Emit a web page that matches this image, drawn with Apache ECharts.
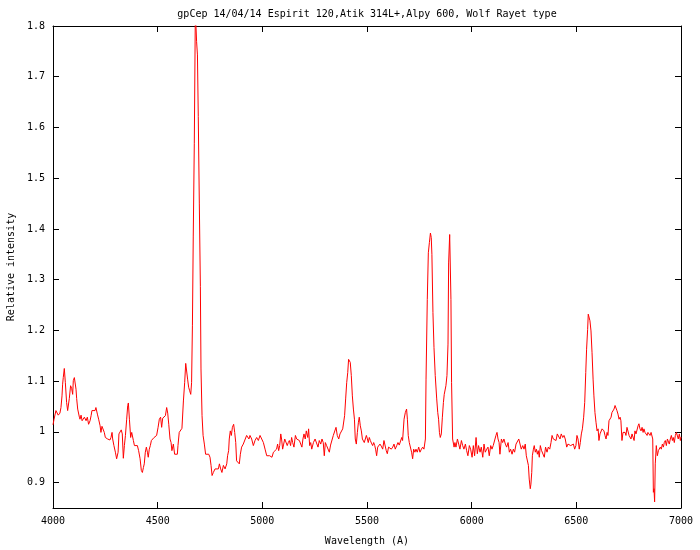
<!DOCTYPE html>
<html>
<head>
<meta charset="utf-8">
<script src="https://cdn.jsdelivr.net/npm/echarts@6/dist/echarts.min.js"></script>
<style>html,body{margin:0;padding:0;background:#fff}#chart{width:700px;height:550px}</style>
</head>
<body>
<div id="chart"></div>
<script>
const titleText = "gpCep 14/04/14 Espirit 120,Atik 314L+,Alpy 600, Wolf Rayet type";
const xName = "Wavelength (A)";
const yName = "Relative intensity";
const xTicks = [4000, 4500, 5000, 5500, 6000, 6500, 7000];
const yTicks = [0.9, 1.0, 1.1, 1.2, 1.3, 1.4, 1.5, 1.6, 1.7, 1.8];

const wavelength = [
4000,4005,4014,4025,4033,4038,4043,4046,4049,4054,4059,4065,4070,4075,4078,4084,4089,4094,4097,4102,
4107,4110,4113,4118,4126,4129,4134,4139,4145,4150,4158,4164,4170,4177,4182,4186,4193,4201,4205,4212,
4218,4225,4229,4234,4240,4245,4250,4256,4261,4266,4272,4277,4282,4285,4291,4298,4304,4311,4315,4320,
4326,4331,4336,4341,4346,4352,4357,4360,4365,4371,4376,4384,4389,4396,4403,4409,4416,4422,4427,4432,
4436,4441,4446,4451,4455,4460,4465,4470,4476,4483,4489,4495,4502,4508,4514,4519,4524,4530,4537,4543,
4548,4553,4559,4564,4568,4575,4581,4588,4594,4597,4603,4610,4616,4623,4629,4634,4639,4643,4648,4653,
4658,4662,4666,4670,4675,4680,4683,4686,4690,4694,4699,4704,4707,4712,4717,4723,4729,4737,4744,4750,
4755,4760,4766,4774,4782,4790,4795,4801,4807,4814,4822,4830,4834,4839,4842,4847,4852,4857,4863,4868,
4873,4877,4885,4890,4895,4901,4909,4917,4925,4930,4936,4941,4949,4957,4965,4973,4981,4989,4997,5005,
5013,5021,5029,5035,5040,5046,5053,5060,5068,5073,5078,5083,5088,5092,5097,5102,5107,5113,5119,5124,
5129,5135,5140,5145,5151,5158,5164,5170,5177,5183,5189,5194,5199,5205,5210,5217,5221,5226,5231,5236,
5244,5252,5260,5266,5272,5279,5285,5291,5296,5301,5307,5314,5320,5326,5333,5339,5345,5352,5358,5365,
5371,5377,5384,5389,5393,5398,5403,5408,5412,5416,5420,5425,5430,5435,5440,5444,5449,5454,5459,5463,
5468,5473,5478,5483,5487,5492,5497,5502,5506,5511,5516,5521,5527,5532,5537,5541,5546,5551,5556,5562,
5568,5575,5581,5586,5592,5597,5603,5610,5616,5623,5629,5635,5642,5648,5654,5658,5666,5670,5677,5683,
5689,5693,5697,5702,5709,5713,5718,5723,5729,5734,5740,5747,5753,5760,5766,5772,5779,5782,5788,5793,
5798,5803,5807,5810,5815,5820,5826,5833,5838,5842,5846,5850,5855,5860,5865,5869,5874,5877,5882,5887,
5890,5895,5900,5901,5904,5909,5916,5920,5925,5932,5938,5944,5951,5957,5963,5970,5976,5982,5989,5995,
6002,6008,6014,6021,6027,6033,6040,6046,6053,6059,6065,6072,6078,6084,6091,6097,6103,6110,6116,6121,
6126,6131,6135,6142,6148,6154,6161,6167,6174,6180,6186,6193,6199,6205,6212,6218,6225,6231,6237,6244,
6250,6256,6261,6266,6271,6275,6280,6283,6287,6290,6295,6299,6304,6309,6314,6318,6323,6328,6334,6341,
6347,6353,6360,6366,6373,6379,6384,6390,6397,6403,6409,6416,6422,6428,6435,6441,6447,6454,6460,6467,
6473,6479,6486,6492,6498,6503,6508,6514,6519,6524,6529,6535,6540,6545,6549,6554,6557,6562,6565,6570,
6575,6580,6584,6589,6594,6599,6604,6608,6613,6618,6623,6627,6632,6637,6642,6647,6651,6656,6661,6666,
6670,6675,6680,6685,6690,6694,6699,6704,6709,6713,6718,6723,6728,6733,6737,6742,6747,6752,6756,6761,
6766,6771,6776,6780,6785,6790,6795,6799,6804,6809,6814,6819,6823,6828,6833,6838,6842,6847,6852,6857,
6861,6865,6868,6871,6874,6877,6882,6887,6892,6897,6901,6906,6911,6916,6920,6925,6930,6935,6940,6944,
6949,6954,6959,6963,6968,6973,6978,6983,6987,6992,6997,7000
];

const intensity = [
1.014,1.025,1.042,1.033,1.037,1.048,1.071,1.094,1.107,1.125,1.097,1.058,1.042,1.045,1.066,1.091,1.086,1.074,1.101,1.107,
1.104,1.084,1.066,1.045,1.029,1.025,1.033,1.022,1.019,1.029,1.022,1.029,1.015,1.022,1.032,1.042,1.045,1.042,1.048,1.035,
1.025,1.012,0.999,1.011,1.009,0.999,0.989,0.991,0.986,0.989,0.984,0.989,0.999,0.986,0.973,0.960,0.947,0.960,0.996,0.999,
1.004,0.996,0.948,0.973,0.993,1.025,1.052,1.057,1.025,0.989,0.999,0.983,0.973,0.970,0.973,0.963,0.947,0.924,0.920,0.930,
0.937,0.960,0.970,0.960,0.950,0.966,0.973,0.983,0.986,0.989,0.986,0.993,1.009,1.025,1.029,1.009,1.027,1.025,1.032,1.048,
1.037,1.015,0.986,0.979,0.963,0.976,0.956,0.953,0.956,0.973,0.999,1.000,1.007,1.061,1.097,1.135,1.137,1.104,1.088,1.081,
1.074,1.097,1.209,1.386,1.569,1.830,1.800,1.769,1.743,1.622,1.451,1.287,1.124,1.032,0.993,0.976,0.956,0.953,0.956,0.950,
0.934,0.914,0.920,0.927,0.930,0.927,0.937,0.927,0.920,0.934,0.927,0.937,0.953,0.963,0.986,1.002,0.993,1.009,1.015,0.999,
0.979,0.943,0.943,0.937,0.956,0.970,0.976,0.973,0.993,0.996,0.986,0.993,0.986,0.973,0.983,0.989,0.983,0.993,0.986,0.979,
0.966,0.953,0.956,0.953,0.956,0.950,0.960,0.963,0.966,0.976,0.963,0.973,0.996,0.986,0.966,0.976,0.986,0.983,0.973,0.979,
0.983,0.973,0.989,0.979,0.970,0.993,0.986,0.986,0.983,0.986,0.970,0.986,0.996,0.986,1.002,0.989,1.006,0.973,0.979,0.966,
0.979,0.986,0.985,0.970,0.983,0.976,0.986,0.979,0.953,0.979,0.973,0.976,0.960,0.974,0.973,0.993,0.996,1.009,0.993,0.986,
0.996,0.993,1.006,1.009,1.032,1.065,1.097,1.117,1.143,1.145,1.137,1.111,1.071,1.045,1.025,0.986,0.976,0.999,1.019,1.029,
1.012,1.002,0.986,0.983,0.979,0.981,0.993,0.986,0.979,0.989,0.983,0.978,0.973,0.979,0.973,0.966,0.953,0.970,0.973,0.976,
0.972,0.966,0.983,0.986,0.963,0.957,0.970,0.973,0.966,0.970,0.976,0.966,0.973,0.979,0.974,0.976,0.989,0.983,1.025,1.038,
1.045,1.025,0.993,0.979,0.976,0.960,0.947,0.966,0.960,0.966,0.960,0.970,0.960,0.966,0.970,0.966,0.986,1.104,1.261,1.353,
1.373,1.392,1.383,1.350,1.235,1.166,1.111,1.065,1.038,1.025,0.999,0.989,0.996,1.029,1.058,1.074,1.071,1.091,1.111,1.173,
1.333,1.389,1.392,1.261,1.097,0.986,0.970,0.979,0.970,0.986,0.976,0.966,0.983,0.973,0.966,0.976,0.963,0.953,0.973,0.966,
0.950,0.973,0.953,0.989,0.957,0.973,0.960,0.970,0.950,0.976,0.960,0.966,0.970,0.953,0.973,0.966,0.973,0.970,0.993,0.999,
0.986,0.979,0.956,0.986,0.979,0.986,0.976,0.970,0.979,0.960,0.966,0.956,0.966,0.960,0.976,0.973,0.986,0.989,0.966,0.973,
0.966,0.976,0.953,0.950,0.934,0.907,0.888,0.897,0.920,0.953,0.966,0.973,0.960,0.966,0.956,0.963,0.950,0.973,0.963,0.966,
0.950,0.970,0.960,0.970,0.966,0.979,0.993,0.986,0.989,0.983,0.996,0.993,0.986,0.996,0.989,0.993,0.986,0.970,0.976,0.979,
0.973,0.970,0.976,0.966,0.973,0.993,0.986,0.966,0.979,0.996,1.006,1.029,1.058,1.117,1.163,1.202,1.232,1.232,1.219,1.199,
1.156,1.104,1.071,1.038,1.019,1.002,1.006,0.983,0.996,0.993,1.006,1.009,1.002,0.993,0.986,0.999,0.993,1.022,1.025,1.029,
1.038,1.035,1.045,1.052,1.055,1.042,1.035,1.025,1.029,1.022,0.983,0.999,0.996,0.999,0.993,1.009,1.006,0.993,0.996,0.986,
0.996,0.999,0.983,1.002,0.996,0.999,1.012,1.016,1.006,1.002,1.009,0.999,1.006,0.999,1.002,0.993,0.999,0.996,0.993,0.999,
1.002,0.986,0.881,0.888,0.862,0.937,0.973,0.953,0.963,0.960,0.970,0.966,0.976,0.970,0.979,0.983,0.973,0.986,0.989,0.976,
0.986,0.993,0.983,0.989,0.979,0.993,0.999,0.996,0.986,0.996,0.983,0.990
];

const points = wavelength.map((w, i) => [w, intensity[i]]);
const font = "DejaVu Sans Mono";
const fmtY = v => String(Math.round(v * 10) / 10);
const fmtX = v => String(Math.round(v));

const chart = echarts.init(document.getElementById('chart'), null, {renderer: 'canvas'});
chart.setOption({
  animation: false,
  backgroundColor: '#ffffff',
  grid: {left: 53, right: 19, top: 26, bottom: 42, containLabel: false, outerBoundsMode: 'none'},
  graphic: [{
    type: 'text', x: 367, y: 14,
    style: {text: titleText, textAlign: 'center', textVerticalAlign: 'middle',
            font: '10px "DejaVu Sans Mono"', fill: '#000'}
  }],
  xAxis: [{
    type: 'value', min: 4000, max: 7000, interval: 500, position: 'bottom',
    name: xName, nameLocation: 'middle', nameGap: 28,
    nameTextStyle: {fontFamily: font, fontSize: 10, color: '#000'},
    axisLine: {show: true, lineStyle: {color: '#000', width: 1}},
    axisTick: {show: true, inside: true, length: 6, customValues: xTicks, lineStyle: {color: '#000'}},
    axisLabel: {show: true, margin: 8, customValues: xTicks, formatter: fmtX, fontFamily: font, fontSize: 10, color: '#000'},
    splitLine: {show: false}
  }, {
    type: 'value', min: 4000, max: 7000, interval: 500, position: 'top',
    axisLine: {show: true, lineStyle: {color: '#000', width: 1}},
    axisTick: {show: true, inside: true, length: 6, customValues: xTicks, lineStyle: {color: '#000'}},
    axisLabel: {show: false}, splitLine: {show: false}
  }],
  yAxis: [{
    type: 'value', min: 0.85, max: 1.8, position: 'left',
    name: yName, nameLocation: 'middle', nameGap: 37, nameRotate: 90,
    nameTextStyle: {fontFamily: font, fontSize: 10, color: '#000'},
    axisLine: {show: true, lineStyle: {color: '#000', width: 1}},
    axisTick: {show: true, inside: true, length: 6, customValues: yTicks, lineStyle: {color: '#000'}},
    axisLabel: {show: true, margin: 8, customValues: yTicks, formatter: fmtY, fontFamily: font, fontSize: 10, color: '#000'},
    splitLine: {show: false}
  }, {
    type: 'value', min: 0.85, max: 1.8, position: 'right',
    axisLine: {show: true, lineStyle: {color: '#000', width: 1}},
    axisTick: {show: true, inside: true, length: 6, customValues: yTicks, lineStyle: {color: '#000'}},
    axisLabel: {show: false}, splitLine: {show: false}
  }],
  series: [{
    type: 'line', xAxisIndex: 0, yAxisIndex: 0, data: points,
    showSymbol: false, symbol: 'none', clip: true,
    lineStyle: {color: '#ff0000', width: 1}
  }]
});
</script>
</body>
</html>
